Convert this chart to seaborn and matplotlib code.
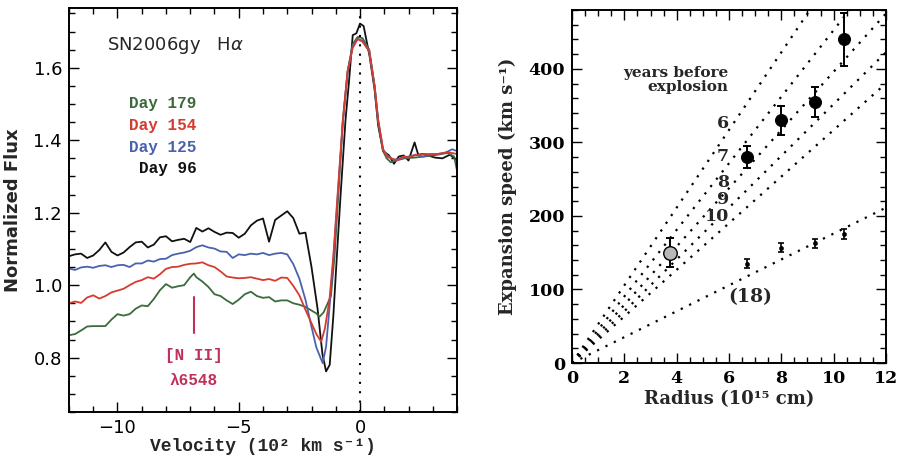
import numpy as np
import pandas as pd
import matplotlib
matplotlib.use("Agg")
import matplotlib.pyplot as plt
from matplotlib.ticker import MultipleLocator
import seaborn as sns


# --- left panel: H-alpha profiles (velocity in 1e2 km/s, normalized flux) ---
vel_96 = [-12.0, -11.75, -11.5, -11.25, -11.0, -10.75, -10.5, -10.25, -10.0, -9.75,
          -9.5, -9.25, -9.0, -8.75, -8.5, -8.25, -8.0, -7.75, -7.5, -7.25,
          -7.0, -6.75, -6.5, -6.25, -6.0, -5.75, -5.5, -5.25, -5.0, -4.75,
          -4.5, -4.25, -4.0, -3.75, -3.5, -3.25, -3.0, -2.75, -2.5, -2.25,
          -2.0, -1.75, -1.55, -1.4, -1.25, -1.1, -0.95, -0.8, -0.6, -0.45,
          -0.3, -0.15, 0.0, 0.15, 0.4, 0.6, 0.75, 0.95, 1.2, 1.4,
          1.6, 1.8, 2.0, 2.25, 2.4, 2.6, 2.85, 3.1, 3.4, 3.7, 4.0]
flux_96 = [1.080, 1.085, 1.087, 1.075, 1.082, 1.097, 1.118, 1.092, 1.082, 1.090,
           1.105, 1.118, 1.120, 1.104, 1.112, 1.132, 1.135, 1.121, 1.125, 1.128,
           1.119, 1.158, 1.148, 1.157, 1.147, 1.139, 1.145, 1.144, 1.131, 1.142,
           1.165, 1.178, 1.184, 1.120, 1.180, 1.192, 1.204, 1.185, 1.142, 1.145,
           1.050, 0.935, 0.810, 0.762, 0.780, 0.915, 1.085, 1.250, 1.454, 1.565,
           1.690, 1.695, 1.722, 1.715, 1.630, 1.540, 1.440, 1.370, 1.358, 1.335,
           1.355, 1.358, 1.344, 1.394, 1.360, 1.362, 1.357, 1.352, 1.350, 1.360, 1.345]

vel_125 = [-12.0, -11.75, -11.5, -11.25, -11.0, -10.75, -10.5, -10.25, -10.0, -9.75,
           -9.5, -9.25, -9.0, -8.75, -8.5, -8.25, -8.0, -7.75, -7.5, -7.25,
           -7.0, -6.75, -6.5, -6.25, -6.0, -5.75, -5.5, -5.25, -5.0, -4.75,
           -4.5, -4.25, -4.0, -3.75, -3.5, -3.25, -3.0, -2.75, -2.5, -2.25,
           -2.0, -1.8, -1.54, -1.4, -1.25, -1.1, -0.96, -0.71, -0.51, -0.3,
           -0.1, 0.1, 0.38, 0.6, 0.75, 0.95, 1.1, 1.4, 1.7, 2.0,
           2.3, 2.6, 2.9, 3.2, 3.5, 3.8, 4.0]
flux_125 = [1.046, 1.042, 1.049, 1.051, 1.048, 1.053, 1.055, 1.050, 1.055, 1.056,
            1.050, 1.060, 1.060, 1.068, 1.065, 1.072, 1.073, 1.083, 1.087, 1.090,
            1.095, 1.105, 1.110, 1.104, 1.101, 1.093, 1.092, 1.075, 1.085, 1.083,
            1.087, 1.085, 1.089, 1.083, 1.087, 1.089, 1.085, 1.058, 1.018, 0.960,
            0.885, 0.828, 0.785, 0.830, 0.945, 1.070, 1.205, 1.450, 1.590, 1.660,
            1.680, 1.675, 1.645, 1.550, 1.455, 1.375, 1.360, 1.345, 1.350, 1.355,
            1.360, 1.355, 1.360, 1.362, 1.365, 1.375, 1.370]

vel_154 = [-12.0, -11.75, -11.5, -11.25, -11.0, -10.75, -10.5, -10.25, -10.0, -9.75,
           -9.5, -9.25, -9.0, -8.75, -8.5, -8.25, -8.0, -7.75, -7.5, -7.25,
           -7.0, -6.75, -6.5, -6.25, -6.0, -5.75, -5.5, -5.25, -5.0, -4.75,
           -4.5, -4.25, -4.0, -3.75, -3.5, -3.25, -3.0, -2.75, -2.5, -2.25,
           -2.0, -1.8, -1.6, -1.45, -1.26, -1.1, -0.96, -0.71, -0.51, -0.3,
           -0.1, 0.1, 0.38, 0.6, 0.75, 0.95, 1.1, 1.27, 1.55, 1.82,
           2.0, 2.24, 2.65, 2.92, 3.2, 3.61, 4.0]
flux_154 = [0.950, 0.955, 0.951, 0.966, 0.972, 0.963, 0.970, 0.980, 0.985, 0.990,
            1.000, 1.009, 1.014, 1.022, 1.018, 1.030, 1.045, 1.050, 1.051, 1.056,
            1.059, 1.060, 1.063, 1.055, 1.050, 1.038, 1.024, 1.021, 1.019, 1.020,
            1.022, 1.018, 1.014, 1.017, 1.012, 1.021, 1.020, 0.998, 0.972, 0.932,
            0.895, 0.865, 0.844, 0.880, 0.959, 1.080, 1.215, 1.454, 1.591, 1.655,
            1.679, 1.672, 1.646, 1.550, 1.455, 1.375, 1.355, 1.350, 1.345, 1.356,
            1.352, 1.358, 1.362, 1.362, 1.362, 1.367, 1.362]

vel_179 = [-12.0, -11.75, -11.5, -11.25, -11.0, -10.75, -10.5, -10.25, -10.0, -9.75,
           -9.5, -9.25, -9.0, -8.75, -8.5, -8.25, -8.0, -7.75, -7.5, -7.25,
           -7.0, -6.85, -6.75, -6.5, -6.25, -6.0, -5.75, -5.5, -5.25, -5.0,
           -4.75, -4.5, -4.25, -4.0, -3.75, -3.5, -3.25, -3.0, -2.75, -2.5,
           -2.25, -2.0, -1.8, -1.67, -1.5, -1.4, -1.2, -1.05, -0.93, -0.71,
           -0.51, -0.3, -0.1, 0.1, 0.38, 0.6, 0.75, 0.95, 1.1, 1.27,
           1.55, 1.82, 2.24, 2.65, 3.2, 3.61, 3.88, 4.0]
flux_179 = [0.862, 0.865, 0.875, 0.886, 0.887, 0.887, 0.887, 0.905, 0.920, 0.916,
            0.920, 0.935, 0.944, 0.942, 0.962, 0.986, 1.003, 0.993, 0.997, 1.000,
            1.022, 1.032, 1.022, 1.010, 0.995, 0.975, 0.970, 0.958, 0.948, 0.960,
            0.975, 0.982, 0.970, 0.965, 0.967, 0.955, 0.958, 0.958, 0.950, 0.946,
            0.940, 0.930, 0.922, 0.913, 0.925, 0.940, 0.970, 1.080, 1.210, 1.450,
            1.590, 1.665, 1.685, 1.682, 1.650, 1.550, 1.450, 1.370, 1.350, 1.339,
            1.345, 1.350, 1.352, 1.355, 1.360, 1.365, 1.355, 1.316]

day_labels = ["Day 179", "Day 154", "Day 125", "Day 96"]
day_colors = ["#3b6a3c", "#d63b2f", "#4a62ad", "#111111"]

# --- right panel: expansion speed vs radius ---
radius_pts = [6.67, 7.97, 9.28, 10.41]
speed_pts = [280, 330, 355, 440]
speed_err = [15, 20, 20, 36]

radius_open = [3.73]
speed_open = [150]
speed_open_err = [20]

radius_small = [6.67, 7.97, 9.28, 10.41]
speed_small = [135, 157, 163, 175]
speed_small_err = [6, 6, 6, 7]

years_before = [6, 7, 8, 9, 10, 18]
radius_ends = [0, 12]


def spectra_frame():
    parts = []
    for lab, v, f in [("Day 96", vel_96, flux_96), ("Day 179", vel_179, flux_179),
                      ("Day 125", vel_125, flux_125), ("Day 154", vel_154, flux_154)]:
        parts.append(pd.DataFrame({"velocity": v, "flux": f, "day": lab}))
    return pd.concat(parts, ignore_index=True)


def speed_lines_frame():
    # v = R / t  with R in 1e15 cm and t in years -> km/s
    rows = []
    for t in years_before:
        for r in radius_ends:
            rows.append({"radius": r, "speed": r * 1e10 / (t * 3.156e7), "years": t})
    return pd.DataFrame(rows)


def style_axes(ax):
    ax.tick_params(which="both", direction="in", top=True, right=True,
                   width=1.0, colors="black")
    ax.tick_params(which="major", length=7)
    ax.tick_params(which="minor", length=4)
    for s in ax.spines.values():
        s.set_linewidth(1.4)
        s.set_color("black")


sns.set_theme(style="ticks")
plt.rcParams["font.family"] = ["DejaVu Sans"]
plt.rcParams["mathtext.fontset"] = "dejavusans"

fig = plt.figure(figsize=(8.97, 4.66), dpi=100)
ax1 = fig.add_axes([0.0769, 0.1159, 0.4326, 0.867])
ax2 = fig.add_axes([0.6377, 0.221, 0.350, 0.7575])

# left panel
spec = spectra_frame()
palette = dict(zip(day_labels, day_colors))
sns.lineplot(data=spec, x="velocity", y="flux", hue="day", palette=palette,
             hue_order=["Day 96", "Day 179", "Day 125", "Day 154"],
             estimator=None, sort=False, legend=False, linewidth=1.3, ax=ax1)
ax1.axvline(0, color="black", lw=1.5, ls=(0, (1, 3.5)))

ax1.set_xlim(-12, 4)
ax1.set_ylim(0.65, 1.765)
ax1.xaxis.set_major_locator(MultipleLocator(5))
ax1.xaxis.set_minor_locator(MultipleLocator(1))
ax1.yaxis.set_major_locator(MultipleLocator(0.2))
ax1.yaxis.set_minor_locator(MultipleLocator(0.05))
ax1.yaxis.set_major_formatter(plt.FormatStrFormatter("%.1f"))
style_axes(ax1)
ax1.tick_params(labelsize=13, pad=5)

mono = ["Liberation Mono", "DejaVu Sans Mono"]
ax1.set_xlabel("Velocity (10² km s⁻¹)", family=mono, weight="bold",
               fontsize=13, labelpad=1)
ax1.set_ylabel("Normalized Flux", weight="bold", fontsize=13, labelpad=8)

ax1.text(-10.45, 1.662, r"SN2006gy   H$\alpha$", fontsize=13, va="center", ha="left")
for i, (lab, col) in enumerate(zip(day_labels, day_colors)):
    ax1.text(-6.75, 1.50 - 0.0595 * i, lab, color=col, family=mono,
             weight="bold", fontsize=11.5, ha="right", va="center")

nii_color = "#c0305a"
ax1.plot([-6.85, -6.85], [0.868, 0.968], color=nii_color, lw=1.5)
ax1.text(-6.85, 0.807, "[N II]", color=nii_color, family=mono, weight="bold",
         fontsize=11.5, ha="center", va="center")
ax1.text(-6.85, 0.736, "λ6548", color=nii_color, family=mono, weight="bold",
         fontsize=11.5, ha="center", va="center")

# right panel
lines = speed_lines_frame()
sns.lineplot(data=lines, x="radius", y="speed", units="years", estimator=None,
             color="black", lw=1.6, ls=(0, (1, 3.2)), ax=ax2)

ax2.errorbar(radius_small, speed_small, yerr=speed_small_err, fmt="none",
             ecolor="black", elinewidth=1.2, capsize=2.5, capthick=1.2)
sns.scatterplot(x=radius_small, y=speed_small, color="black", s=10,
                edgecolor="black", ax=ax2, zorder=3)

ax2.errorbar(radius_pts, speed_pts, yerr=speed_err, fmt="none",
             ecolor="black", elinewidth=1.4, capsize=3, capthick=1.4)
sns.scatterplot(x=radius_pts, y=speed_pts, color="black", s=75,
                edgecolor="black", ax=ax2, zorder=3)

ax2.errorbar(radius_open, speed_open, yerr=speed_open_err, fmt="none",
             ecolor="black", elinewidth=1.4, capsize=3, capthick=1.4)
sns.scatterplot(x=radius_open, y=speed_open, color="#b8b8b8", s=95,
                edgecolor="black", linewidth=1.0, ax=ax2, zorder=3)

ax2.set_xlim(0, 12)
ax2.set_ylim(0, 480)
ax2.xaxis.set_major_locator(MultipleLocator(2))
ax2.xaxis.set_minor_locator(MultipleLocator(0.5))
ax2.yaxis.set_major_locator(MultipleLocator(100))
ax2.yaxis.set_minor_locator(MultipleLocator(20))
style_axes(ax2)
ax2.tick_params(labelsize=12.5, pad=5)
for lab in ax2.get_xticklabels() + ax2.get_yticklabels():
    lab.set_family("DejaVu Serif")
    lab.set_weight("bold")

serif = "DejaVu Serif"
ax2.set_xlabel("Radius (10¹⁵ cm)", family=serif, weight="bold", fontsize=13,
               labelpad=2)
ax2.set_ylabel("Expansion speed (km s⁻¹)", family=serif, weight="bold",
               fontsize=13, labelpad=8)

ax2.text(5.98, 385, "years before\nexplosion", family=serif, weight="bold",
         fontsize=11, ha="right", va="center", multialignment="right",
         linespacing=1.0)
num_y = [326, 281, 246, 222, 199]
for t, y in zip(years_before[:5], num_y):
    ax2.text(6.0, y, str(t), family=serif, weight="bold", fontsize=12.5,
             ha="right", va="center")
ax2.text(6.8, 89, "(%d)" % years_before[5], family=serif, weight="bold",
         fontsize=13.5, ha="center", va="center")

fig.savefig("out.png", dpi=100)
